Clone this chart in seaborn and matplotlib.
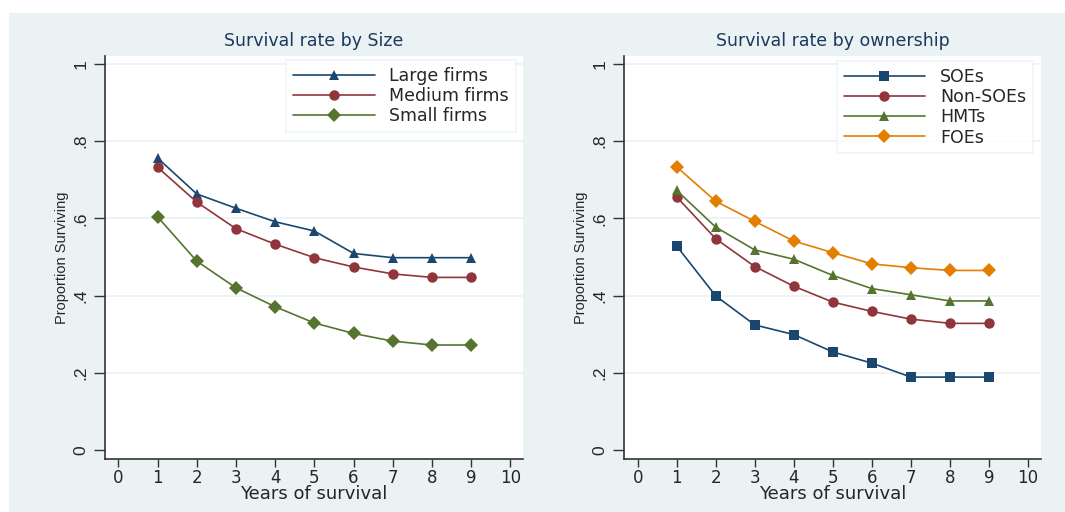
import numpy as np
import pandas as pd
import matplotlib
matplotlib.use("Agg")
import matplotlib.pyplot as plt
import seaborn as sns
from matplotlib.patches import Rectangle
from matplotlib import font_manager

sns.set_theme(style="white")
plt.rcParams['font.family'] = ['DejaVu Sans']

years = [1, 2, 3, 4, 5, 6, 7, 8, 9]
large_firms = [0.756, 0.663, 0.626, 0.591, 0.567, 0.509, 0.498, 0.498, 0.498]
medium_firms = [0.732, 0.642, 0.573, 0.533, 0.498, 0.474, 0.456, 0.447, 0.447]
small_firms = [0.604, 0.489, 0.420, 0.371, 0.329, 0.302, 0.282, 0.272, 0.272]

soes = [0.528, 0.399, 0.324, 0.299, 0.254, 0.225, 0.189, 0.189, 0.189]
non_soes = [0.655, 0.547, 0.475, 0.424, 0.383, 0.359, 0.339, 0.328, 0.328]
hmts = [0.672, 0.577, 0.518, 0.494, 0.452, 0.418, 0.402, 0.386, 0.386]
foes = [0.733, 0.644, 0.592, 0.541, 0.511, 0.482, 0.472, 0.465, 0.465]

size_labels = ["Large firms", "Medium firms", "Small firms"]
own_labels = ["SOEs", "Non-SOEs", "HMTs", "FOEs"]
x_ticks = list(range(0, 11))
y_ticks = [0, 0.2, 0.4, 0.6, 0.8, 1.0]
y_ticklabels = ["0", ".2", ".4", ".6", ".8", "1"]

NAVY, MAROON, GREEN, ORANGE = "#1A476F", "#90353B", "#55752F", "#E37E00"
BG = "#EAF2F3"

# condensed font for rotated (vertical) texts, if available
try:
    font_manager.findfont(font_manager.FontProperties(family="Liberation Sans Narrow"),
                          fallback_to_default=False)
    NARROW = ['Liberation Sans Narrow', 'DejaVu Sans']
    YLAB_SIZE, YTICK_SIZE = 12.5, 14
except Exception:
    NARROW = ['Liberation Sans', 'DejaVu Sans']
    YLAB_SIZE, YTICK_SIZE = 10.5, 12.5

def long_df(labels, series):
    rows = []
    for lab, vals in zip(labels, series):
        for yr, v in zip(years, vals):
            rows.append({"year": yr, "value": v, "series": lab})
    return pd.DataFrame(rows)

df_size = long_df(size_labels, [large_firms, medium_firms, small_firms])
df_own = long_df(own_labels, [soes, non_soes, hmts, foes])

W, H = 1065, 512
fig = plt.figure(figsize=(W / 100, H / 100), dpi=100, facecolor="white")
fig.patches.append(Rectangle((9 / W, 0), 1, (H - 13) / H, transform=fig.transFigure,
                             facecolor=BG, edgecolor="none", zorder=-10))

def px_axes(x0, y0, x1, y1):
    return fig.add_axes([x0 / W, (H - y1) / H, (x1 - x0) / W, (y1 - y0) / H])

ax1 = px_axes(105, 56, 523, 459)
ax2 = px_axes(624, 56, 1041, 459)

def style_axes(ax, title, xlim):
    ax.set_facecolor("white")
    ax.set_xlim(*xlim)
    ax.set_ylim(-0.023, 1.02)
    ax.set_xticks(x_ticks)
    ax.set_xticklabels([str(t) for t in x_ticks], fontsize=12)
    ax.set_yticks(y_ticks)
    ax.set_yticklabels(y_ticklabels, fontsize=YTICK_SIZE, rotation=90, va="center",
                       family=NARROW)
    for t in y_ticks[1:]:
        ax.axhline(t, color=BG, lw=1.2, zorder=0)
    for s in ["top", "right"]:
        ax.spines[s].set_visible(False)
    for s in ["left", "bottom"]:
        ax.spines[s].set_color("#333333")
        ax.spines[s].set_linewidth(1.2)
    ax.tick_params(axis="y", length=8, width=1, color="#333333", pad=4, left=True)
    ax.tick_params(axis="x", length=6, width=1, color="#333333", pad=1, bottom=True)
    ax.set_title(title, fontsize=12.5, color="#1A3A5F", pad=7)
    ax.set_xlabel("Years of survival", fontsize=13, labelpad=-1)
    ax.set_ylabel("Proportion Surviving", fontsize=YLAB_SIZE, labelpad=3, family=NARROW)

sns.lineplot(data=df_size, x="year", y="value", hue="series", style="series",
             hue_order=size_labels, style_order=size_labels,
             palette=[NAVY, MAROON, GREEN], markers=["^", "o", "D"], dashes=False,
             markersize=7.5, markeredgewidth=0, linewidth=1.2, ax=ax1)
sns.lineplot(data=df_own, x="year", y="value", hue="series", style="series",
             hue_order=own_labels, style_order=own_labels,
             palette=[NAVY, MAROON, GREEN, ORANGE], markers=["s", "o", "^", "D"], dashes=False,
             markersize=7.5, markeredgewidth=0, linewidth=1.2, ax=ax2)

style_axes(ax1, "Survival rate by Size", (-0.34, 10.32))
style_axes(ax2, "Survival rate by ownership", (-0.35, 10.33))

for ax, anchor in ((ax1, (0.983, 0.99)), (ax2, (0.981, 0.988))):
    leg = ax.legend(loc="upper right", bbox_to_anchor=anchor, fontsize=12.5,
                    frameon=True, fancybox=False, handlelength=4.7, handletextpad=0.85,
                    labelspacing=0.13, borderpad=0.4, borderaxespad=0, title=None)
    leg.get_frame().set_edgecolor(BG)
    leg.get_frame().set_linewidth(1.2)

fig.savefig("out.png", dpi=100, facecolor="white")
